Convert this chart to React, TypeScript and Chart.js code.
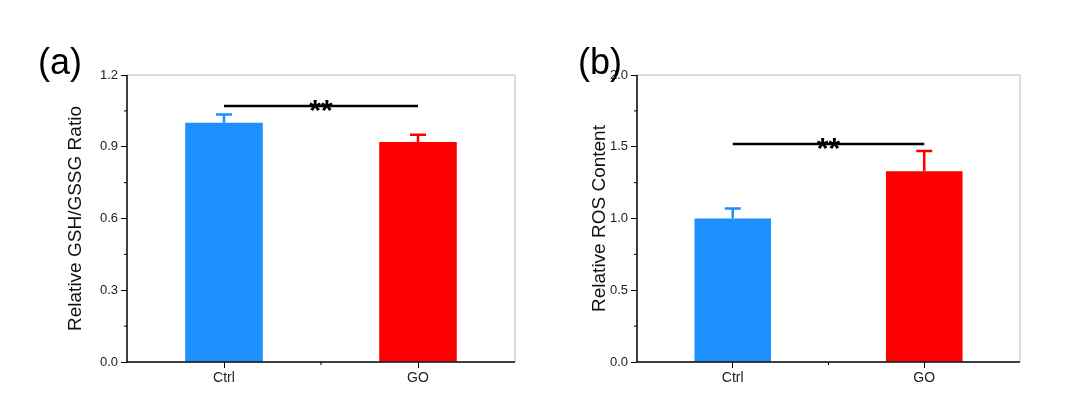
import React, { useEffect, useRef } from "react";
import { Chart, registerables } from "chart.js";
Chart.register(...registerables);

const categories = ["Ctrl", "GO"];
const colors = ["#1E8FFF", "#FF0000"];
const gshValues = [1.0, 0.92];
const gshErrors = [0.035, 0.03];
const gshSigY = 1.07;
const rosValues = [1.0, 1.33];
const rosErrors = [0.07, 0.14];
const rosSigY = 1.52;

type P = {
  label: string; title: string; values: number[]; errors: number[]; sig: number;
  max: number; step: number; padL: number; yW: number; padR: number; left: number;
};

const panels: P[] = [
  { label: "(a)", title: "Relative GSH/GSSG Ratio", values: gshValues, errors: gshErrors, sig: gshSigY, max: 1.2, step: 0.3, padL: 64, yW: 63, padR: 25, left: 0 },
  { label: "(b)", title: "Relative ROS Content", values: rosValues, errors: rosErrors, sig: rosSigY, max: 2.0, step: 0.5, padL: 48, yW: 49, padR: 60, left: 540 },
];

function Panel({ p }: { p: P }) {
  const ref = useRef<HTMLCanvasElement>(null);
  useEffect(() => {
    const deco = {
      id: "deco",
      afterDatasetsDraw(c: any) {
        const ctx = c.ctx, a = c.chartArea, x = c.scales.x, y = c.scales.y;
        ctx.save();
        // frame
        ctx.strokeStyle = "#bbb"; ctx.lineWidth = 1;
        ctx.beginPath(); ctx.moveTo(a.left, a.top); ctx.lineTo(a.right, a.top); ctx.lineTo(a.right, a.bottom); ctx.stroke();
        ctx.strokeStyle = "#000"; ctx.lineWidth = 1.5;
        ctx.beginPath(); ctx.moveTo(a.left, a.top); ctx.lineTo(a.left, a.bottom); ctx.lineTo(a.right, a.bottom); ctx.stroke();
        // minor ticks
        ctx.lineWidth = 1;
        for (let v = p.step / 2; v < p.max; v += p.step) {
          const py = y.getPixelForValue(v);
          ctx.beginPath(); ctx.moveTo(a.left, py); ctx.lineTo(a.left - 3, py); ctx.stroke();
        }
        const mx = (x.getPixelForValue(0) + x.getPixelForValue(1)) / 2;
        ctx.beginPath(); ctx.moveTo(mx, a.bottom); ctx.lineTo(mx, a.bottom + 3); ctx.stroke();
        // error bars
        p.values.forEach((v, i) => {
          const px = x.getPixelForValue(i), top = y.getPixelForValue(v + p.errors[i]), base = y.getPixelForValue(v);
          ctx.strokeStyle = colors[i]; ctx.lineWidth = 2.5;
          ctx.beginPath(); ctx.moveTo(px, base); ctx.lineTo(px, top); ctx.moveTo(px - 8, top); ctx.lineTo(px + 8, top); ctx.stroke();
        });
        // significance
        const sy = y.getPixelForValue(p.sig);
        const x0 = x.getPixelForValue(0), x1 = x.getPixelForValue(1);
        ctx.strokeStyle = "#000"; ctx.lineWidth = 2.5;
        ctx.beginPath(); ctx.moveTo(x0, sy); ctx.lineTo(x1, sy); ctx.stroke();
        ctx.fillStyle = "#000"; ctx.font = "bold 30px Arial, 'Liberation Sans'"; ctx.textAlign = "center"; ctx.textBaseline = "alphabetic";
        ctx.fillText("**", (x0 + x1) / 2, sy + 14);
        ctx.font = "36px Arial, 'Liberation Sans'"; ctx.textAlign = "left";
        ctx.fillText(p.label, 38, 74);
        ctx.restore();
      },
    };
    const chart = new Chart(ref.current!, {
      type: "bar",
      data: {
        labels: categories,
        datasets: [{ data: p.values, backgroundColor: colors, borderColor: colors, borderWidth: 0, barPercentage: 0.4, categoryPercentage: 1 }],
      },
      options: {
        animation: false, responsive: false,
        layout: { padding: { left: p.padL, right: p.padR, top: 75, bottom: 25 } },
        plugins: { legend: { display: false }, tooltip: { enabled: false } },
        scales: {
          y: {
            min: 0, max: p.max,
            afterFit: (s: any) => { s.width = p.yW; },
            border: { display: false },
            grid: { drawOnChartArea: false, tickLength: 6, color: "#000", lineWidth: 1 },
            ticks: { stepSize: p.step, padding: 3, color: "#222", font: { size: 13, family: "Arial, 'Liberation Sans'" }, callback: (v: any) => Number(v).toFixed(1) },
            title: { display: true, text: p.title, color: "#111", font: { size: 19, family: "Arial, 'Liberation Sans'" }, padding: 0 },
          },
          x: {
            afterFit: (s: any) => { s.height = 28; },
            border: { display: false },
            grid: { offset: false, drawOnChartArea: false, tickLength: 6, color: "#000", lineWidth: 1 },
            ticks: { padding: 2, color: "#222", font: { size: 14, family: "Arial, 'Liberation Sans'" } },
          },
        },
      },
      plugins: [deco],
    } as any);
    return () => chart.destroy();
  }, []);
  return <canvas ref={ref} width={540} height={415} style={{ position: "absolute", left: p.left, top: 0, width: 540, height: 415 }} />;
}

export default function App() {
  return (
    <div style={{ position: "fixed", left: 0, top: 0, width: 1080, height: 415, background: "#fff" }}>
      {panels.map((p) => <Panel key={p.label} p={p} />)}
    </div>
  );
}
